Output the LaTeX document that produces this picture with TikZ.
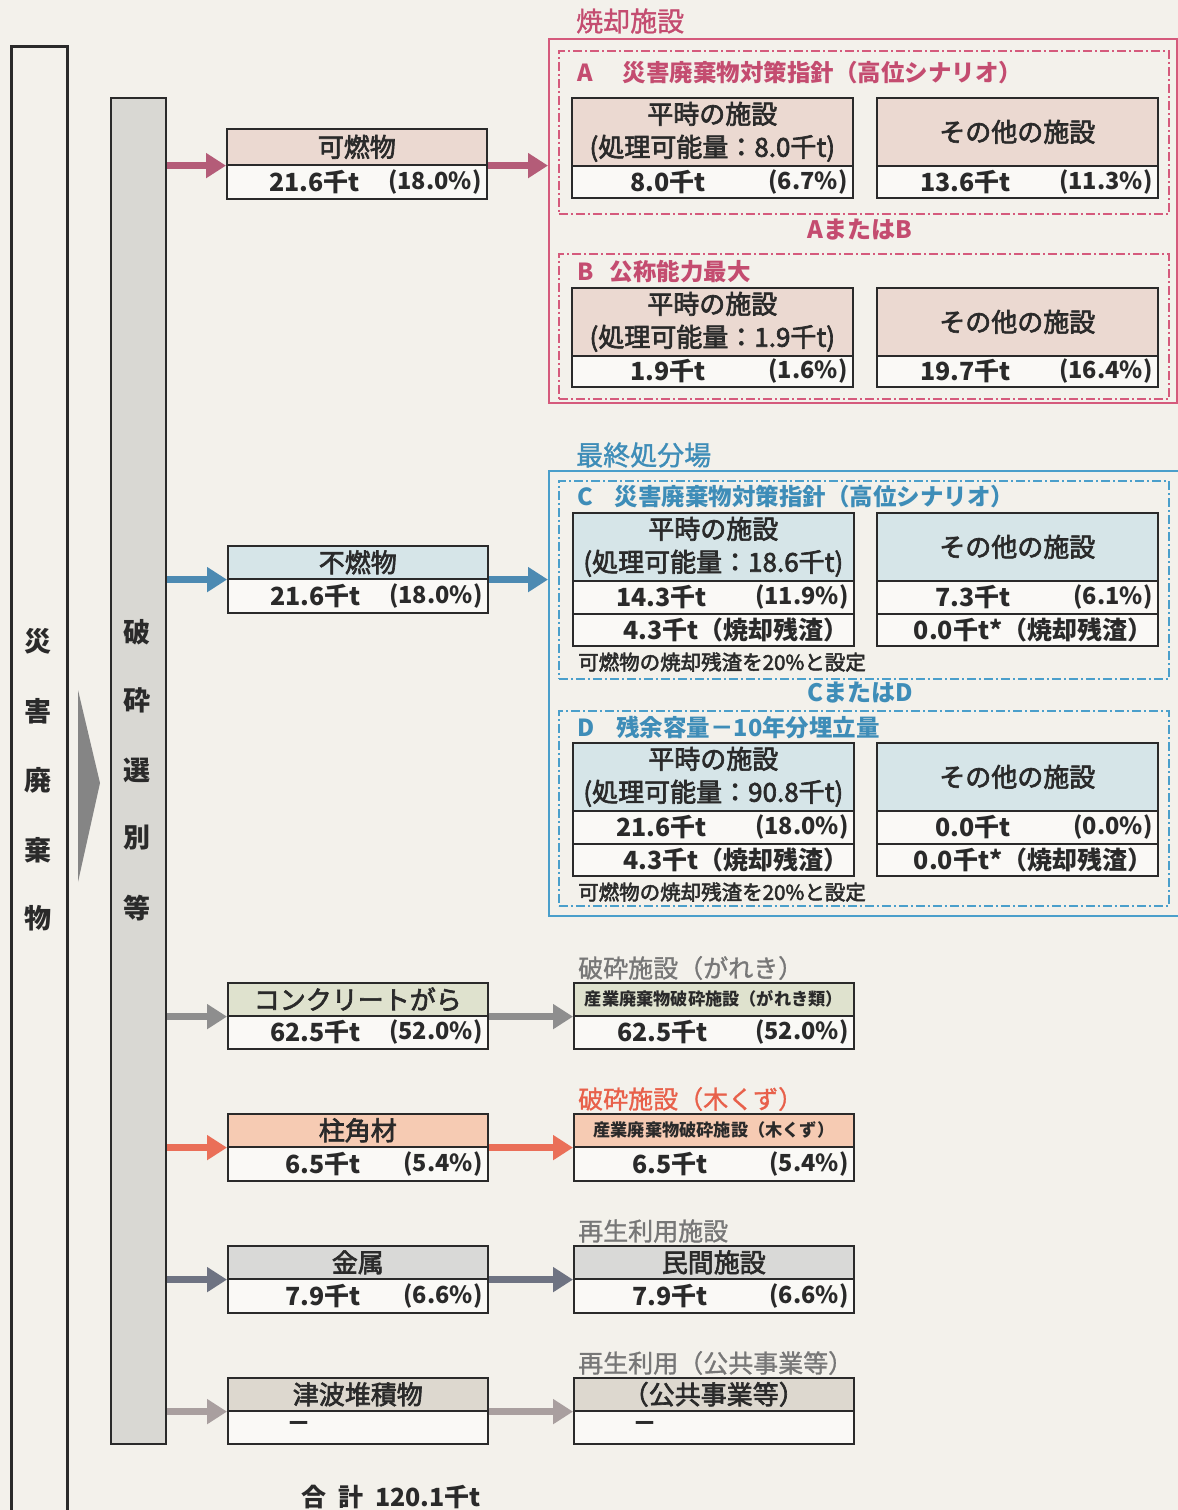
\documentclass[tikz,border=0pt]{standalone}
\usepackage{fontspec}
\setmainfont{Noto Sans CJK JP}
\newfontfamily\medfont{Noto Sans CJK JP}[FakeBold=2.5]
\newfontfamily\lightmed{Noto Sans CJK JP}[FakeBold=1.2]
\usetikzlibrary{arrows.meta}
\definecolor{bg}{HTML}{F3F1EB}
\definecolor{pinkline}{HTML}{D55A7C}
\definecolor{pinktxt}{HTML}{C44C70}
\definecolor{pinkarrow}{HTML}{B45C78}
\definecolor{pinkfill}{HTML}{EBD9D1}
\definecolor{blueline}{HTML}{4A9FCB}
\definecolor{bluetxt}{HTML}{3E8DB8}
\definecolor{bluearrow}{HTML}{4C8AB2}
\definecolor{bluefill}{HTML}{D6E5E8}
\definecolor{concfill}{HTML}{DFE2CE}
\definecolor{woodfill}{HTML}{F6CBB3}
\definecolor{woodtxt}{HTML}{E8604A}
\definecolor{woodarrow}{HTML}{EA6F58}
\definecolor{metalfill}{HTML}{D9D9D7}
\definecolor{tsunamifill}{HTML}{DDD8CF}
\definecolor{grayarrow}{HTML}{8E8E8E}
\definecolor{metalarrow}{HTML}{6E7382}
\definecolor{tsuarrow}{HTML}{A99F9F}
\definecolor{graytxt}{HTML}{777777}
\definecolor{barfill}{HTML}{D9D8D3}
\definecolor{valfill}{HTML}{FAF9F6}
\definecolor{ink}{HTML}{2A2A2A}
\tikzset{
  bx/.style={draw=ink, line width=1.6, anchor=north west, inner sep=0pt, align=center},
  hdrtxt/.style={font=\medfont\fontsize{26}{33}\selectfont, text=ink},
  lbltxt/.style={font=\medfont\fontsize{26}{28}\selectfont, text=ink},
  valtxt/.style={font=\bfseries\fontsize{25}{26}\selectfont, text=ink, inner sep=0pt},
  pcttxt/.style={font=\bfseries\fontsize{23.5}{26}\selectfont, text=ink, inner sep=0pt},
  smalltxt/.style={font=\bfseries\fontsize{17.2}{20}\selectfont, text=ink},
  dd/.style={draw, line width=1.5, dash pattern=on 9pt off 3pt on 2pt off 3pt, anchor=north west, inner sep=0pt},
  outer/.style={draw, line width=2.2, anchor=north west, inner sep=0pt},
  grptitle/.style={font=\bfseries\fontsize{23.5}{26}\selectfont, anchor=west, inner sep=0pt},
  seclabel/.style={font=\lightmed\fontsize{27}{30}\selectfont, anchor=west, inner sep=0pt},
  sublabel/.style={font=\lightmed\fontsize{25}{28}\selectfont, anchor=west, inner sep=0pt},
  note/.style={font=\medfont\fontsize{20.5}{22}\selectfont, anchor=west, inner sep=0pt, text=ink},
  vtxt/.style={font=\bfseries\fontsize{27}{28}\selectfont, text=ink, inner sep=0pt},
  flow/.style={line width=7.5, -{Triangle[length=20,width=24]}},
}
\newcommand\amt[3]{\node[valtxt, anchor=east] (#1a) at ([xshift=#2]#1.west) {#3};}
\newcommand\pct[2]{\node[pcttxt, anchor=east] (#1p) at ([xshift=-6]#1.east) {#2};}
\newcommand\res[2]{\node[valtxt, anchor=east] (#1r) at ([xshift=-6]#1.east) {#2};}
\begin{document}
\begin{tikzpicture}[x=1pt,y=-1pt]
\useasboundingbox (0,0) rectangle (1178,1510);
\clip (0,0) rectangle (1178,1510);
\fill[bg] (0,0) rectangle (1178,1510);

% left column
\node[bx, line width=2.5, minimum width=56, minimum height=1490] (waste) at (10,45) {};
\node[vtxt] (w1) at (38,641) {災};
\node[vtxt] (w2) at (38,711) {害};
\node[vtxt] (w3) at (38,780) {廃};
\node[vtxt] (w4) at (38,850) {棄};
\node[vtxt] (w5) at (38,918) {物};
\fill[black!48] (78,690) -- (100,783) -- (78,882) -- cycle;
\node[bx, line width=2, fill=barfill, minimum width=55, minimum height=1346] (bar) at (110,97) {};
\node[vtxt] (b1) at (137,632) {破};
\node[vtxt] (b2) at (137,700) {砕};
\node[vtxt] (b3) at (137,770) {選};
\node[vtxt] (b4) at (137,838) {別};
\node[vtxt] (b5) at (137,908) {等};

% ===== incineration group =====
\node[seclabel, text=pinktxt] (incinlbl) at (576,21) {焼却施設};
\node[outer, draw=pinkline, minimum width=628, minimum height=364] (incin) at (548,38) {};
\node[dd, draw=pinkline, minimum width=610, minimum height=163] (grpA) at (558,50) {};
\node[grptitle, text=pinktxt] (grpAt) at (577,73) {A\hspace{30pt}災害廃棄物対策指針（高位シナリオ）};
\node[bx, fill=pinkfill, minimum width=281, minimum height=68, hdrtxt] (aL) at (571,97) {平時の施設\\(処理可能量：8.0千t)};
\node[bx, fill=valfill, minimum width=281, minimum height=32] (aLv) at (571,165) {};
\amt{aLv}{135}{8.0千t}\pct{aLv}{(6.7\%)}
\node[bx, fill=pinkfill, minimum width=281, minimum height=68, hdrtxt] (aR) at (876,97) {その他の施設};
\node[bx, fill=valfill, minimum width=281, minimum height=32] (aRv) at (876,165) {};
\amt{aRv}{135}{13.6千t}\pct{aRv}{(11.3\%)}
\node[font=\bfseries\fontsize{24}{26}\selectfont, text=pinktxt] (aorb) at (860,230) {AまたはB};
\node[dd, draw=pinkline, minimum width=610, minimum height=145] (grpB) at (558,253) {};
\node[grptitle, text=pinktxt] (grpBt) at (577,272) {B\hspace{16pt}公称能力最大};
\node[bx, fill=pinkfill, minimum width=281, minimum height=68, hdrtxt] (bL) at (571,287) {平時の施設\\(処理可能量：1.9千t)};
\node[bx, fill=valfill, minimum width=281, minimum height=31] (bLv) at (571,355) {};
\amt{bLv}{135}{1.9千t}\pct{bLv}{(1.6\%)}
\node[bx, fill=pinkfill, minimum width=281, minimum height=68, hdrtxt] (bR) at (876,287) {その他の施設};
\node[bx, fill=valfill, minimum width=281, minimum height=31] (bRv) at (876,355) {};
\amt{bRv}{135}{19.7千t}\pct{bRv}{(16.4\%)}

% ===== landfill group =====
\node[seclabel, text=bluetxt] (landlbl) at (576,455) {最終処分場};
\node[outer, draw=blueline, minimum width=630, minimum height=445] (land) at (548,470) {};
\node[dd, draw=blueline, minimum width=610, minimum height=198] (grpC) at (558,480) {};
\node[grptitle, text=bluetxt] (grpCt) at (577,497) {C\hspace{22pt}災害廃棄物対策指針（高位シナリオ）};
\node[bx, fill=bluefill, minimum width=281, minimum height=68, hdrtxt] (cL) at (572,512) {平時の施設\\(処理可能量：18.6千t)};
\node[bx, fill=valfill, minimum width=281, minimum height=33] (cLv) at (572,580) {};
\amt{cLv}{135}{14.3千t}\pct{cLv}{(11.9\%)}
\node[bx, fill=valfill, minimum width=281, minimum height=32] (cLw) at (572,613) {};
\res{cLw}{4.3千t（焼却残渣）}
\node[bx, fill=bluefill, minimum width=281, minimum height=68, hdrtxt] (cR) at (876,512) {その他の施設};
\node[bx, fill=valfill, minimum width=281, minimum height=33] (cRv) at (876,580) {};
\amt{cRv}{135}{7.3千t}\pct{cRv}{(6.1\%)}
\node[bx, fill=valfill, minimum width=281, minimum height=32] (cRw) at (876,613) {};
\res{cRw}{0.0千t*（焼却残渣）}
\node[note] (noteC) at (578,662) {可燃物の焼却残渣を20\%と設定};
\node[font=\bfseries\fontsize{24}{26}\selectfont, text=bluetxt] (cord) at (860,693) {CまたはD};
\node[dd, draw=blueline, minimum width=610, minimum height=195] (grpD) at (558,710) {};
\node[grptitle, text=bluetxt] (grpDt) at (577,728) {D\hspace{22pt}残余容量－10年分埋立量};
\node[bx, fill=bluefill, minimum width=281, minimum height=68, hdrtxt] (dL) at (572,742) {平時の施設\\(処理可能量：90.8千t)};
\node[bx, fill=valfill, minimum width=281, minimum height=33] (dLv) at (572,810) {};
\amt{dLv}{135}{21.6千t}\pct{dLv}{(18.0\%)}
\node[bx, fill=valfill, minimum width=281, minimum height=32] (dLw) at (572,843) {};
\res{dLw}{4.3千t（焼却残渣）}
\node[bx, fill=bluefill, minimum width=281, minimum height=68, hdrtxt] (dR) at (876,742) {その他の施設};
\node[bx, fill=valfill, minimum width=281, minimum height=33] (dRv) at (876,810) {};
\amt{dRv}{135}{0.0千t}\pct{dRv}{(0.0\%)}
\node[bx, fill=valfill, minimum width=281, minimum height=32] (dRw) at (876,843) {};
\res{dRw}{0.0千t*（焼却残渣）}
\node[note] (noteD) at (578,892) {可燃物の焼却残渣を20\%と設定};

% ===== left material boxes =====
\node[bx, fill=pinkfill, minimum width=260, minimum height=36, lbltxt] (kanen) at (226,128) {可燃物};
\node[bx, fill=valfill, minimum width=260, minimum height=34] (kanenv) at (226,164) {};
\amt{kanenv}{134}{21.6千t}\pct{kanenv}{(18.0\%)}

\node[bx, fill=bluefill, minimum width=260, minimum height=33, lbltxt] (funen) at (227,545) {不燃物};
\node[bx, fill=valfill, minimum width=260, minimum height=34] (funenv) at (227,578) {};
\amt{funenv}{134}{21.6千t}\pct{funenv}{(18.0\%)}

\node[bx, fill=concfill, minimum width=260, minimum height=33, lbltxt] (conc) at (227,982) {コンクリートがら};
\node[bx, fill=valfill, minimum width=260, minimum height=33] (concv) at (227,1015) {};
\amt{concv}{134}{62.5千t}\pct{concv}{(52.0\%)}

\node[bx, fill=woodfill, minimum width=260, minimum height=33, lbltxt] (wood) at (227,1113) {柱角材};
\node[bx, fill=valfill, minimum width=260, minimum height=34] (woodv) at (227,1146) {};
\amt{woodv}{134}{6.5千t}\pct{woodv}{(5.4\%)}

\node[bx, fill=metalfill, minimum width=260, minimum height=33, lbltxt] (metal) at (227,1245) {金属};
\node[bx, fill=valfill, minimum width=260, minimum height=34] (metalv) at (227,1278) {};
\amt{metalv}{134}{7.9千t}\pct{metalv}{(6.6\%)}

\node[bx, fill=tsunamifill, minimum width=260, minimum height=33, lbltxt] (tsu) at (227,1377) {津波堆積物};
\node[bx, fill=valfill, minimum width=260, minimum height=33] (tsuv) at (227,1410) {};
\node[valtxt] (tsuva) at ([xshift=72]tsuv.west) {－};

% ===== right destination boxes =====
\node[sublabel, text=graytxt] (crushlbl) at (578,968) {破砕施設（がれき）};
\node[bx, fill=concfill, minimum width=280, minimum height=33, smalltxt] (crush) at (573,982) {産業廃棄物破砕施設（がれき類）};
\node[bx, fill=valfill, minimum width=280, minimum height=33] (crushv) at (573,1015) {};
\amt{crushv}{135}{62.5千t}\pct{crushv}{(52.0\%)}

\node[sublabel, text=woodtxt] (chiplbl) at (578,1099) {破砕施設（木くず）};
\node[bx, fill=woodfill, minimum width=280, minimum height=33, smalltxt] (chip) at (573,1113) {産業廃棄物破砕施設（木くず）};
\node[bx, fill=valfill, minimum width=280, minimum height=34] (chipv) at (573,1146) {};
\amt{chipv}{135}{6.5千t}\pct{chipv}{(5.4\%)}

\node[sublabel, text=graytxt] (recylbl) at (578,1231) {再生利用施設};
\node[bx, fill=metalfill, minimum width=280, minimum height=33, lbltxt] (priv) at (573,1245) {民間施設};
\node[bx, fill=valfill, minimum width=280, minimum height=34] (privv) at (573,1278) {};
\amt{privv}{135}{7.9千t}\pct{privv}{(6.6\%)}

\node[sublabel, text=graytxt] (publbl) at (578,1363) {再生利用（公共事業等）};
\node[bx, fill=tsunamifill, minimum width=280, minimum height=33, lbltxt] (pub) at (573,1377) {（公共事業等）};
\node[bx, fill=valfill, minimum width=280, minimum height=33] (pubv) at (573,1410) {};
\node[valtxt] (pubva) at ([xshift=72]pubv.west) {－};

\node[font=\bfseries\fontsize{25}{27}\selectfont, text=ink] (total) at (391,1497) {合\hspace{12pt}計\hspace{12pt}120.1千t};

% ===== arrows =====
\draw[flow, pinkarrow] (bar.east |- kanen.south) -- (kanen.south west);
\draw[flow, pinkarrow] (kanen.south east) -- (incin.west |- kanen.south);
\draw[flow, bluearrow] (bar.east |- funen.south) -- (funen.south west);
\draw[flow, bluearrow] (funen.south east) -- (land.west |- funen.south);
\draw[flow, grayarrow] (bar.east |- conc.south) -- (conc.south west);
\draw[flow, grayarrow] (conc.south east) -- (crush.south west);
\draw[flow, woodarrow] (bar.east |- wood.south) -- (wood.south west);
\draw[flow, woodarrow] (wood.south east) -- (chip.south west);
\draw[flow, metalarrow] (bar.east |- metal.south) -- (metal.south west);
\draw[flow, metalarrow] (metal.south east) -- (priv.south west);
\draw[flow, tsuarrow] (bar.east |- tsu.south) -- (tsu.south west);
\draw[flow, tsuarrow] (tsu.south east) -- (pub.south west);
\end{tikzpicture}
\end{document}
